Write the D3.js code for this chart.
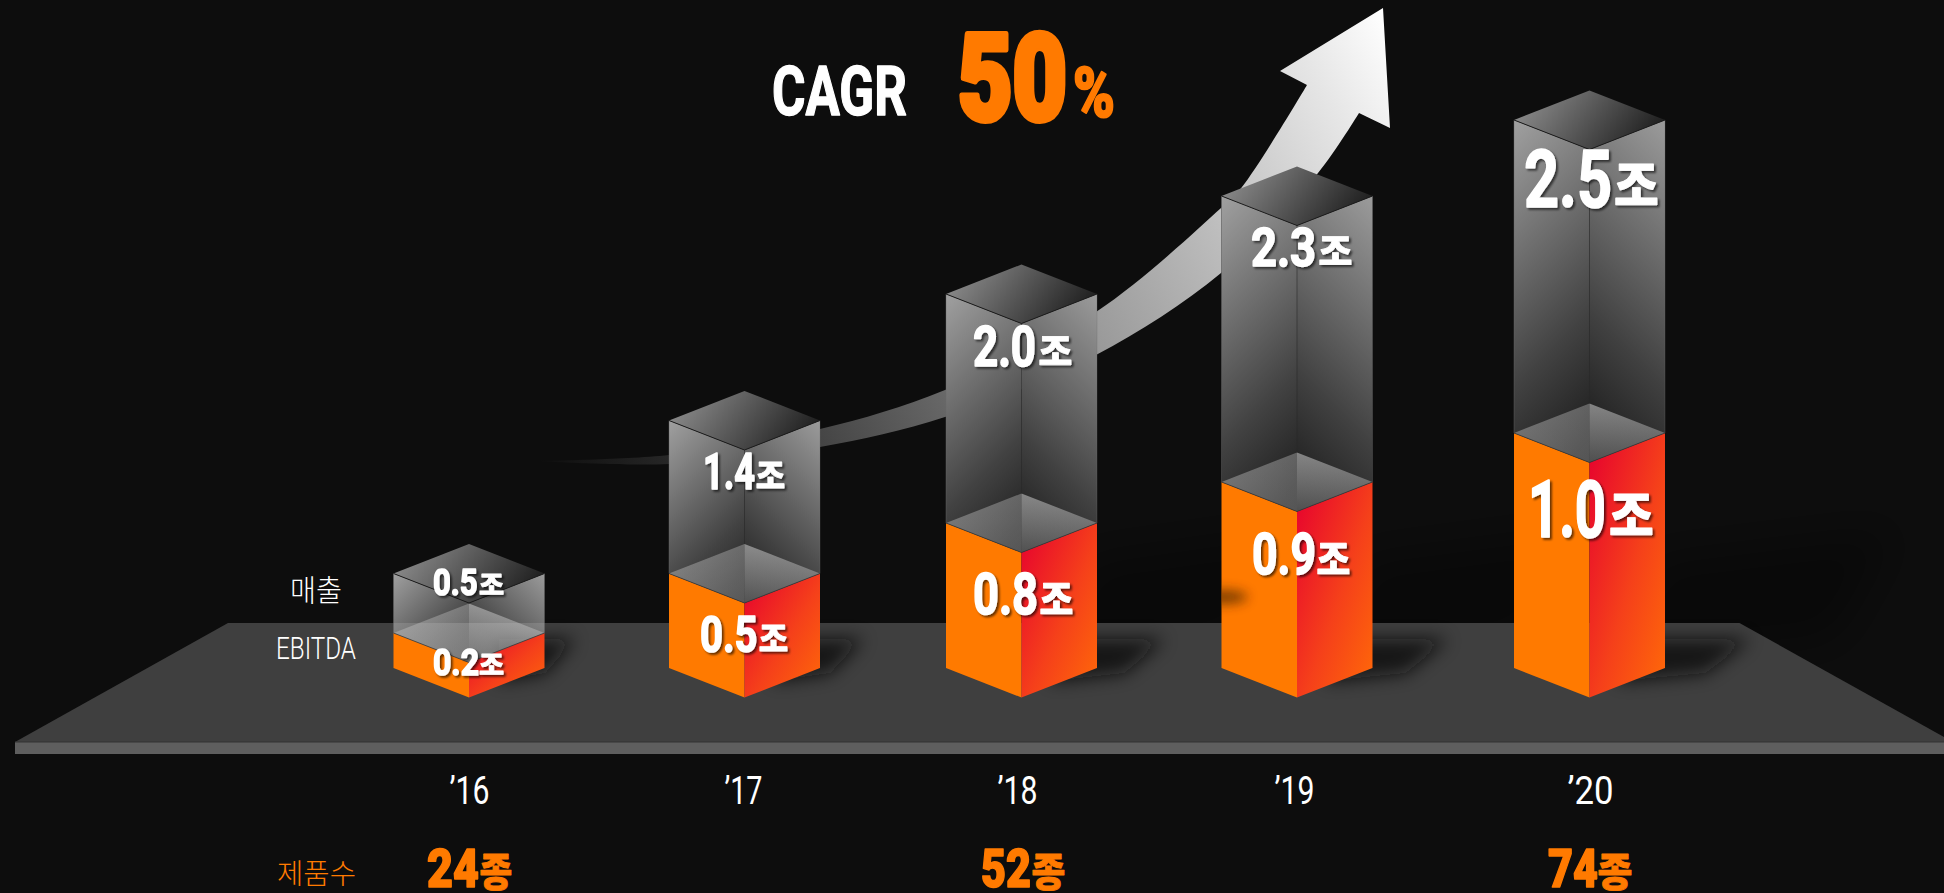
<!DOCTYPE html>
<html>
<head>
<meta charset="utf-8">
<title>CAGR 50%</title>
<script src="https://cdn.jsdelivr.net/npm/d3@7.9.0/dist/d3.min.js"></script>
<style>
  html, body { margin: 0; background: #0d0d0d; }
  svg { display: block; }
  text { font-family: Roboto, "Noto Sans CJK KR", sans-serif; paint-order: stroke; stroke-linejoin: round; }
  .ko { font-family: "Noto Sans CJK KR", sans-serif; }
</style>
</head>
<body>
<svg width="1944" height="893"></svg>
<script>
const years = ["'16", "'17", "'18", "'19", "'20"];
const revenue = [0.5, 1.4, 2.0, 2.3, 2.5];
const ebitda = [0.2, 0.5, 0.8, 0.9, 1.0];
const productCounts = [24, null, 52, null, 74];

// picture is not drawn to scale, so the height scale is piecewise, one knot per value
const heightKnots = [0, 0.2, 0.5, 0.8, 0.9, 1.0, 1.4, 2.0, 2.3, 2.5];
const heightPixels = [0, 35, 94.5, 145, 186, 235, 247.5, 374, 472, 548];

// layout only: [x, baseline, cap height, number width, unit x, unit width]
const revenueLabelLayout = [
  [433, 596, 28, 44.5, 480, 23],
  [703, 490, 37, 52, 757, 27],
  [973, 367, 41, 63, 1040, 31],
  [1251, 267, 40, 65, 1320, 31],
  [1524, 208, 58, 88, 1616, 41],
];
const ebitdaLabelLayout = [
  [433, 676, 28, 46, 480, 23],
  [700, 653, 37, 57.5, 760, 27],
  [973, 615, 42, 65, 1041, 31],
  [1252, 575, 42, 64, 1318, 31],
  [1528, 538, 58, 78, 1611, 41],
];
const countLabelLayout = [
  [427, 888, 40, 52, 481, 30],
  null,
  [981, 888, 40, 50, 1033, 31],
  null,
  [1548, 888, 40, 50, 1599, 32],
];
const tickWidths = [40, 38, 40, 40, 46];
const shadowReach = [106, 119, 143, 151, 161];

const barX = d3.scaleOrdinal(years, [469, 744.5, 1021.5, 1297, 1589.5]);
const tickX = d3.scaleOrdinal(years, [469, 743, 1017, 1294, 1590]);
const barHeight = d3.scaleLinear().domain(heightKnots).range(heightPixels);

const halfW = 75.5;
const halfD = 29.5;
const baseY = 668;
const orange = '#ff7a00';

const svg = d3.select('svg');
const defs = svg.append('defs');

function addGradient(id, x1, y1, x2, y2, stops, units) {
  const grad = defs.append('linearGradient').attr('id', id)
    .attr('x1', x1).attr('y1', y1).attr('x2', x2).attr('y2', y2);
  if (units) grad.attr('gradientUnits', units);
  stops.forEach(([offset, color, alpha]) => {
    grad.append('stop').attr('offset', offset).attr('stop-color', color)
      .attr('stop-opacity', alpha === undefined ? 1 : alpha);
  });
}

addGradient('topFace', 0, 0.35, 1, 0.65, [[0, '#8c8c8c'], [1, '#1b1b1b']]);
addGradient('hatchLeft', 0, 0, 1, 0.4, [[0, '#c4c4c4', 0.44], [1, '#c4c4c4', 0.36]]);
addGradient('hatchRight', 0, 0, 0.2, 1, [[0, '#d4d4d4', 0.54], [1, '#c4c4c4', 0.32]]);
addGradient('redFace', 0, 0, 1, 1, [[0, '#e6002f'], [0.55, '#f5401a'], [1, '#ff6a08']]);
addGradient('arrowFill', 533, 461, 1383, 8, [
  [0, '#0d0d0d'], [0.125, '#262626'], [0.274, '#454545'], [0.41, '#686868'],
  [0.577, '#9a9a9a'], [0.738, '#bdbdbd'], [0.906, '#e6e6e6'], [1, '#ffffff'],
], 'userSpaceOnUse');

const blur = (id, std) => defs.append('filter').attr('id', id)
  .attr('x', '-100%').attr('y', '-200%').attr('width', '300%').attr('height', '500%')
  .append('feGaussianBlur').attr('stdDeviation', std);
blur('softShadow', 9);
blur('blobShadow', 6);
blur('farShadow', 22);
defs.append('filter').attr('id', 'textShadow')
  .attr('x', '-20%').attr('y', '-20%').attr('width', '140%').attr('height', '140%')
  .append('feDropShadow').attr('dx', 2).attr('dy', 2).attr('stdDeviation', 1.2)
  .attr('flood-color', '#000').attr('flood-opacity', 0.6);

const polygon = (pts) => d3.line()(pts) + 'Z';

svg.append('rect').attr('width', 1944).attr('height', 893).attr('fill', '#0d0d0d');

// growth arrow behind the bars
const arrowUpper = [[533, 461], [669, 455], [820, 429], [945, 390], [1096, 312], [1221, 208], [1242, 187], [1307, 85]];
const arrowLower = [[1359, 113], [1318, 173], [1221, 273], [1096, 355], [945, 417], [820, 447], [669, 464], [533, 461]];
const curve = d3.line().curve(d3.curveCatmullRom.alpha(0.5));
const arrowPath = curve(arrowUpper) + 'L1280,71L1383,8L1390,128L' + curve(arrowLower).slice(1) + 'Z';
svg.append('path').attr('d', arrowPath).attr('fill', 'url(#arrowFill)');

// faint long shadows on the backdrop
const farShadows = svg.append('g').attr('filter', 'url(#farShadow)');
years.forEach((y, i) => {
  if (i < 2) return;
  const cx = barX(y);
  const reach = shadowReach[i] * 1.9;
  farShadows.append('path')
    .attr('d', polygon([[cx + 40, 660], [cx + 60, 560], [cx + reach, 530], [cx + reach * 0.8, 640]]))
    .attr('fill', '#000').attr('opacity', 0.32);
});

// floor
svg.append('path')
  .attr('d', polygon([[15, 742], [228, 623], [1739.5, 623], [1953, 742]]))
  .attr('fill', '#3f3f3f');
svg.append('rect').attr('x', 15).attr('y', 742).attr('width', 1929).attr('height', 12).attr('fill', '#5e5e5e');
svg.append('line').attr('x1', 15).attr('x2', 1944).attr('y1', 742).attr('y2', 742).attr('stroke', '#333');

// drawn right to left, a shadow can fall on the next bar
const bars = years.map((y, i) => i).reverse();
bars.forEach((i) => {
  const year = years[i];
  const cx = barX(year);
  const left = cx - halfW;
  const right = cx + halfW;
  const revTop = baseY - barHeight(revenue[i]);
  const ebTop = baseY - barHeight(ebitda[i]);
  const g = svg.append('g').attr('class', 'bar');

  const reach = shadowReach[i];
  const sy = baseY - 3;
  g.append('path')
    .attr('d', polygon([[cx + 30, sy - 26], [cx + reach, sy - 26], [cx + reach * 0.72, sy + 8], [cx + 30, sy + 16]]))
    .attr('fill', '#0c0c0c').attr('opacity', 0.82).attr('filter', 'url(#softShadow)');

  // EBITDA box
  const orangeFace = [[left, ebTop], [cx, ebTop + halfD], [cx, baseY + halfD], [left, baseY]];
  g.append('path').attr('d', polygon(orangeFace)).attr('fill', orange);
  g.append('path')
    .attr('d', polygon([[cx, ebTop + halfD], [right, ebTop], [right, baseY], [cx, baseY + halfD]]))
    .attr('fill', 'url(#redFace)');

  // revenue box, glass over the EBITDA box. Only the first bar shows the floor through it
  const faceLeft = [[left, revTop], [cx, revTop + halfD], [cx, ebTop + halfD], [left, ebTop]];
  const faceRight = [[cx, revTop + halfD], [right, revTop], [right, ebTop], [cx, ebTop + halfD]];
  if (i > 0) {
    g.append('path').attr('d', polygon(faceLeft)).attr('fill', '#0d0d0d');
    g.append('path').attr('d', polygon(faceRight)).attr('fill', '#0d0d0d');
  }
  // 45 degree fade, per bar since the heights differ
  const run = (ebTop - revTop + halfD + 2 * halfW * 0.5) / 2 + halfD / 2;
  const glass = (alphaA) => [[0, '#a8a8a8', alphaA], [0.6, '#a8a8a8', alphaA * 0.36], [1, '#a8a8a8', 0]];
  addGradient(`leftFace${i}`, left, revTop, left + run, revTop + run, glass(0.95), 'userSpaceOnUse');
  addGradient(`rightFace${i}`, right, revTop, right - run, revTop + run, glass(0.92), 'userSpaceOnUse');
  g.append('path').attr('d', polygon(faceLeft)).attr('fill', `url(#leftFace${i})`);
  g.append('path').attr('d', polygon(faceRight)).attr('fill', `url(#rightFace${i})`);
  g.append('path')
    .attr('d', polygon([[left, ebTop], [cx, ebTop - halfD], [cx, ebTop + halfD]]))
    .attr('fill', 'url(#hatchLeft)');
  g.append('path')
    .attr('d', polygon([[cx, ebTop - halfD], [right, ebTop], [cx, ebTop + halfD]]))
    .attr('fill', 'url(#hatchRight)');
  g.append('path')
    .attr('d', polygon([[left, revTop], [cx, revTop - halfD], [right, revTop], [cx, revTop + halfD]]))
    .attr('fill', 'url(#topFace)');

  // edges
  const edge = (pts, color, w) => g.append('path').attr('d', d3.line()(pts))
    .attr('fill', 'none').attr('stroke', color).attr('stroke-width', w);
  edge([[left, revTop], [left, ebTop]], '#6a6a6a', 0.8).attr('opacity', 0.5);
  edge([[right, revTop], [right, ebTop]], '#6a6a6a', 0.8).attr('opacity', 0.4);
  edge([[cx, revTop + halfD], [cx, ebTop - halfD]], '#2a2a2a', 0.8).attr('opacity', 0.7);
  edge([[left, revTop], [cx, revTop + halfD], [right, revTop]], '#1c1c1c', 1);
  edge([[left, ebTop], [cx, ebTop + halfD], [right, ebTop]], '#3a3a3a', 0.8);

  // shadow thrown by the bar on its left, only seen on the orange face
  if (i === 3) {
    defs.append('clipPath').attr('id', 'orangeClip').append('path').attr('d', polygon(orangeFace));
    g.append('g').attr('clip-path', 'url(#orangeClip)')
      .append('ellipse').attr('cx', left + 2).attr('cy', 597).attr('rx', 24).attr('ry', 7)
      .attr('fill', '#4a2500').attr('opacity', 0.7)
      .attr('filter', 'url(#blobShadow)');
  }
});

function drawAmount(group, num, unit, layout, opts) {
  const [x, baseline, cap, numW, unitX, unitW] = layout;
  const { fill, weight, shadow, unitRatio, fatten } = opts;
  const fs = (cap - fatten) / 0.711;
  const unitFs = (cap * unitRatio) / 0.86;
  const g = group.append('g');
  if (shadow) g.attr('filter', 'url(#textShadow)');
  g.append('text').attr('x', x).attr('y', baseline - fatten / 2)
    .attr('font-size', fs).attr('font-weight', weight).attr('fill', fill)
    .attr('stroke', fill).attr('stroke-width', fatten)
    .attr('textLength', numW).attr('lengthAdjust', 'spacingAndGlyphs')
    .text(num);
  g.append('text').attr('class', 'ko').attr('x', unitX - unitFs * 0.04).attr('y', baseline - unitFs * 0.06)
    .attr('font-size', unitFs).attr('font-weight', 900).attr('fill', fill)
    .attr('stroke', fill).attr('stroke-width', fatten * 0.5)
    .attr('textLength', unitW * 1.09).attr('lengthAdjust', 'spacingAndGlyphs')
    .text(unit);
}

const labels = svg.append('g');
years.forEach((y, i) => {
  const amount = { fill: '#fff', weight: 700, shadow: true, unitRatio: 0.77, fatten: 1.6 };
  drawAmount(labels, revenue[i].toFixed(1), '조', revenueLabelLayout[i], amount);
  drawAmount(labels, ebitda[i].toFixed(1), '조', ebitdaLabelLayout[i], amount);
  if (productCounts[i] !== null) {
    drawAmount(labels, productCounts[i], '종', countLabelLayout[i],
      { fill: orange, weight: 900, shadow: false, unitRatio: 0.85, fatten: 1.6 });
  }
});

// year axis, only the labels show
const yearAxis = svg.append('g').attr('transform', 'translate(0,804)')
  .call(d3.axisBottom(tickX).tickSize(0).tickFormat((d) => d.replace("'", '\u2019')));
yearAxis.select('.domain').remove();
yearAxis.selectAll('text')
  .attr('y', 0).attr('dy', 0)
  .attr('font-size', 39).attr('font-weight', 400).attr('fill', '#fff')
  .style('font-family', 'Roboto')
  .attr('textLength', (d, i) => tickWidths[i])
  .attr('lengthAdjust', 'spacingAndGlyphs');

// row titles
const rowTitle = (text, x, y, size, width, color, cls) => svg.append('text')
  .attr('class', cls).attr('x', x).attr('y', y)
  .attr('font-size', size).attr('font-weight', 300).attr('fill', color)
  .attr('textLength', width).attr('lengthAdjust', 'spacingAndGlyphs')
  .text(text);
rowTitle('매출', 290, 601, 30, 52, '#fff', 'ko');
rowTitle('EBITDA', 276, 659, 31, 80, '#fff', '');
rowTitle('제품수', 277, 884, 28, 79, orange, 'ko');

// headline, stroked since the installed fonts stop short of this weight
const headline = svg.append('g');
headline.append('text').attr('x', 772).attr('y', 114.5)
  .attr('font-size', 68).attr('font-weight', 700).attr('fill', '#fff')
  .attr('stroke', '#fff').attr('stroke-width', 1.4)
  .attr('textLength', 135).attr('lengthAdjust', 'spacingAndGlyphs').text('CAGR');
headline.append('text').attr('x', 958).attr('y', 120)
  .attr('font-size', 120).attr('font-weight', 900).attr('fill', orange)
  .attr('stroke', orange).attr('stroke-width', 6)
  .attr('textLength', 109).attr('lengthAdjust', 'spacingAndGlyphs').text('50');
headline.append('text').attr('x', 1073).attr('y', 117)
  .attr('font-size', 70).attr('font-weight', 900).attr('fill', orange)
  .attr('stroke', orange).attr('stroke-width', 2)
  .attr('textLength', 42).attr('lengthAdjust', 'spacingAndGlyphs').text('%');
</script>
</body>
</html>
